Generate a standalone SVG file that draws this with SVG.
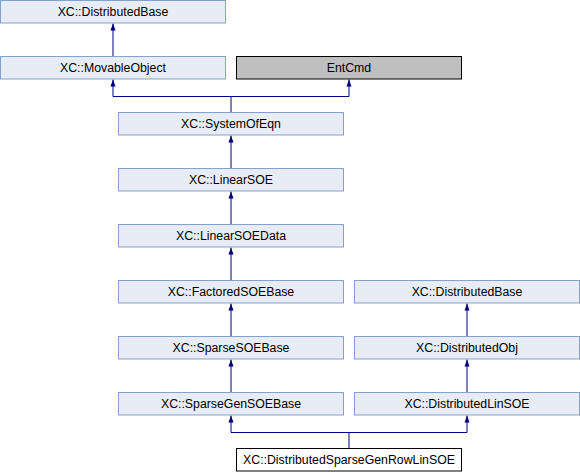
<svg xmlns="http://www.w3.org/2000/svg" width="580" height="472" viewBox="0 0 580 472">
<defs>
<style>
.n rect{fill:#e8ecf5;stroke:#84a0d0;stroke-width:1}
.g rect{fill:#bfbfbf;stroke:#000;stroke-width:1}
.w rect{fill:#fff;stroke:#000;stroke-width:1}
text{font-family:"Liberation Sans",Arial,sans-serif;font-size:12.3px;fill:#000;text-anchor:middle}
.e{fill:none;stroke:#000080;stroke-width:1}
</style>
<marker id="a" markerWidth="7" markerHeight="6" refX="7" refY="3" orient="auto" markerUnits="userSpaceOnUse" viewBox="0 0 7 6">
<path d="M7,3 L0,0.5 L0,5.5 Z" fill="#000080"/>
</marker>
</defs>
<g id="edges">
<path class="e" d="M113,56 V23.5" marker-end="url(#a)"/>
<path class="e" d="M231,112 V96.5 H113 V79.5" marker-end="url(#a)"/>
<path class="e" d="M231,96.5 H349 V79.5" marker-end="url(#a)"/>
<path class="e" d="M231,168 V135.5" marker-end="url(#a)"/>
<path class="e" d="M231,224 V191.5" marker-end="url(#a)"/>
<path class="e" d="M231,280 V247.5" marker-end="url(#a)"/>
<path class="e" d="M231,336 V303.5" marker-end="url(#a)"/>
<path class="e" d="M231,392 V359.5" marker-end="url(#a)"/>
<path class="e" d="M467,336 V303.5" marker-end="url(#a)"/>
<path class="e" d="M467,392 V359.5" marker-end="url(#a)"/>
<path class="e" d="M349,448 V432.5 H231 V415.5" marker-end="url(#a)"/>
<path class="e" d="M349,432.5 H467 V415.5" marker-end="url(#a)"/>
</g>
<g id="DistributedBase1" class="n"><rect x="0.5" y="0.5" width="225" height="22.5"/><text x="113" y="16">XC::DistributedBase</text></g>
<g id="MovableObject" class="n"><rect x="0.5" y="56.5" width="225" height="22.5"/><text x="113" y="72">XC::MovableObject</text></g>
<g id="EntCmd" class="g"><rect x="236.5" y="56.5" width="225" height="22.5"/><text x="349" y="72">EntCmd</text></g>
<g id="SystemOfEqn" class="n"><rect x="118.5" y="112.5" width="225" height="22.5"/><text x="231" y="128">XC::SystemOfEqn</text></g>
<g id="LinearSOE" class="n"><rect x="118.5" y="168.5" width="225" height="22.5"/><text x="231" y="184">XC::LinearSOE</text></g>
<g id="LinearSOEData" class="n"><rect x="118.5" y="224.5" width="225" height="22.5"/><text x="231" y="240">XC::LinearSOEData</text></g>
<g id="FactoredSOEBase" class="n"><rect x="118.5" y="280.5" width="225" height="22.5"/><text x="231" y="296">XC::FactoredSOEBase</text></g>
<g id="SparseSOEBase" class="n"><rect x="118.5" y="336.5" width="225" height="22.5"/><text x="231" y="352">XC::SparseSOEBase</text></g>
<g id="SparseGenSOEBase" class="n"><rect x="118.5" y="392.5" width="225" height="22.5"/><text x="231" y="408">XC::SparseGenSOEBase</text></g>
<g id="DistributedBase2" class="n"><rect x="354.5" y="280.5" width="225" height="22.5"/><text x="467" y="296">XC::DistributedBase</text></g>
<g id="DistributedObj" class="n"><rect x="354.5" y="336.5" width="225" height="22.5"/><text x="467" y="352">XC::DistributedObj</text></g>
<g id="DistributedLinSOE" class="n"><rect x="354.5" y="392.5" width="225" height="22.5"/><text x="467" y="408">XC::DistributedLinSOE</text></g>
<g id="DistributedSparseGenRowLinSOE" class="w"><rect x="236.5" y="448.5" width="225" height="22.5"/><text x="349" y="464">XC::DistributedSparseGenRowLinSOE</text></g>
</svg>
